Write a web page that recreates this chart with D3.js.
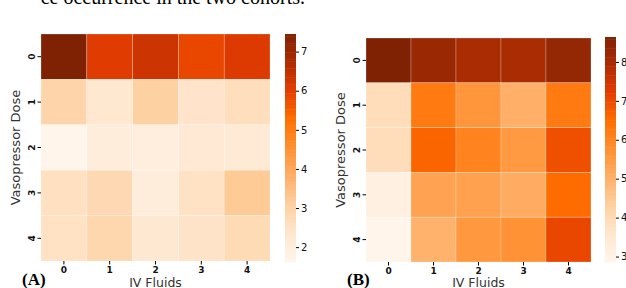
<!DOCTYPE html>
<html>
<head>
<meta charset="utf-8">
<script src="https://cdn.jsdelivr.net/npm/d3@7"></script>
<style>
body { margin: 0; background: #fff; }
svg { display: block; }
.tick text { font-family: "DejaVu Sans", sans-serif; }
</style>
</head>
<body>
<div class="chart"></div>
<script>
var doses = ["0", "1", "2", "3", "4"];
var fluids = ["0", "1", "2", "3", "4"];

// rows = vasopressor dose, columns = IV fluids
var valuesA = [
	[7.45, 6.05, 6.3, 5.85, 6.1],
	[2.9, 2.3, 3.05, 2.4, 2.6],
	[1.62, 2.0, 1.95, 2.2, 2.15],
	[2.55, 2.8, 2.0, 2.5, 3.2],
	[2.5, 2.85, 2.25, 2.45, 2.75]
];
var valuesB = [
	[8.64, 8.2, 7.95, 7.95, 8.3],
	[3.9, 6.2, 5.6, 5.0, 6.2],
	[3.9, 6.6, 6.0, 5.5, 6.9],
	[3.1, 5.3, 5.35, 5.1, 6.5],
	[2.86, 4.95, 5.55, 5.7, 7.05]
];
var ticksA = [2, 3, 4, 5, 6, 7];
var ticksB = [3, 4, 5, 6, 7, 8];

var paletteStops = ["#fff5eb", "#ffe6ce", "#fed0a0", "#ffae66", "#ff9030", "#ff6e00", "#e43c00", "#ac2c03", "#7f2204"];

var width = 626, height = 288;

var svg = d3.select(".chart").append("svg")
	.attr("width", width)
	.attr("height", height);

// caption line cut off at the top
svg.append("text")
	.attr("x", 305).attr("y", 3.5)
	.attr("text-anchor", "end")
	.style("font-family", "'Liberation Serif', serif")
	.style("font-size", "20px")
	.text("ce occurrence in the two cohorts.");

function drawPanel(values, ticks, label, box, bar) {
	var flat = [];
	values.forEach(function(row, i) {
		row.forEach(function(v, j) { flat.push({dose: doses[i], fluid: fluids[j], value: v}); });
	});
	var ext = d3.extent(flat, d => d.value);

	var t = d3.scaleLinear().domain(ext).range([0, 1]);
	var pal = d3.scaleLinear()
		.domain(paletteStops.map((c, i) => i / (paletteStops.length - 1)))
		.range(paletteStops)
		.interpolate(d3.interpolateRgb);
	var color = v => pal(t(v));

	var x = d3.scaleBand().domain(fluids).range([box.x0, box.x1]);
	var y = d3.scaleBand().domain(doses).range([box.y0, box.y1]);

	var g = svg.append("g");

	g.selectAll("rect.cell").data(flat).enter().append("rect")
		.attr("class", "cell")
		.attr("x", d => x(d.fluid))
		.attr("y", d => y(d.dose))
		.attr("width", x.bandwidth())
		.attr("height", y.bandwidth())
		.style("fill", d => color(d.value))
		.style("stroke", "rgba(255,255,255,0.4)")
		.style("stroke-width", 0.6);

	var xAxis = g.append("g")
		.attr("transform", "translate(0," + box.y1 + ")")
		.call(d3.axisBottom(x).tickSize(3.5).tickPadding(2));
	xAxis.select(".domain").remove();
	xAxis.selectAll("text").style("font-size", "9px").style("font-weight", "bold").attr("fill", "#111");

	var yAxis = g.append("g")
		.attr("transform", "translate(" + box.x0 + ",0)")
		.call(d3.axisLeft(y).tickSize(3.5).tickPadding(3));
	yAxis.select(".domain").remove();
	yAxis.selectAll("text")
		.style("font-size", "9px").style("font-weight", "bold").attr("fill", "#111")
		.attr("text-anchor", "middle")
		.attr("dy", null).attr("x", null)
		.attr("transform", "translate(-9,0) rotate(-90) translate(0,3.3)");

	g.append("text")
		.attr("transform", "translate(" + (box.x0 - 21) + "," + ((box.y0 + box.y1) / 2) + ") rotate(-90)")
		.attr("text-anchor", "middle")
		.style("font-family", "'DejaVu Sans', sans-serif")
		.style("font-size", "13px")
		.attr("fill", "#333")
		.text("Vasopressor Dose");

	g.append("text")
		.attr("x", (box.x0 + box.x1) / 2).attr("y", 286.5)
		.attr("text-anchor", "middle")
		.style("font-family", "'DejaVu Sans', sans-serif")
		.style("font-size", "12.5px")
		.attr("fill", "#333")
		.text("IV Fluids");

	g.append("text")
		.attr("x", box.x0 - 19).attr("y", 285)
		.style("font-family", "'Liberation Serif', serif")
		.style("font-size", "17px")
		.style("font-weight", "bold")
		.text(label);

	// colorbar
	var cy = d3.scaleLinear().domain(ext).range([bar.y1, bar.y0]);
	var steps = d3.range(0, 101).map(i => ext[0] + (ext[1] - ext[0]) * i / 100);
	g.selectAll("rect.cb").data(steps.slice(0, -1)).enter().append("rect")
		.attr("class", "cb")
		.attr("x", bar.x0)
		.attr("width", bar.x1 - bar.x0)
		.attr("y", (d, i) => cy(steps[i + 1]))
		.attr("height", (d, i) => cy(steps[i]) - cy(steps[i + 1]) + 0.5)
		.style("fill", d => color(d));

	var cAxis = g.append("g")
		.attr("transform", "translate(" + bar.x1 + ",0)")
		.call(d3.axisRight(cy).tickValues(ticks).tickFormat(d3.format("d")).tickSize(3).tickPadding(2));
	cAxis.select(".domain").remove();
	cAxis.selectAll("text").style("font-size", "10px").attr("fill", "#111");
}

drawPanel(valuesA, ticksA, "(A)", {x0: 41, x1: 270, y0: 34, y1: 261}, {x0: 285, x1: 296, y0: 34, y1: 262});
drawPanel(valuesB, ticksB, "(B)", {x0: 366, x1: 591, y0: 38, y1: 262}, {x0: 605, x1: 616, y0: 37, y1: 262});
</script>
</body>
</html>
